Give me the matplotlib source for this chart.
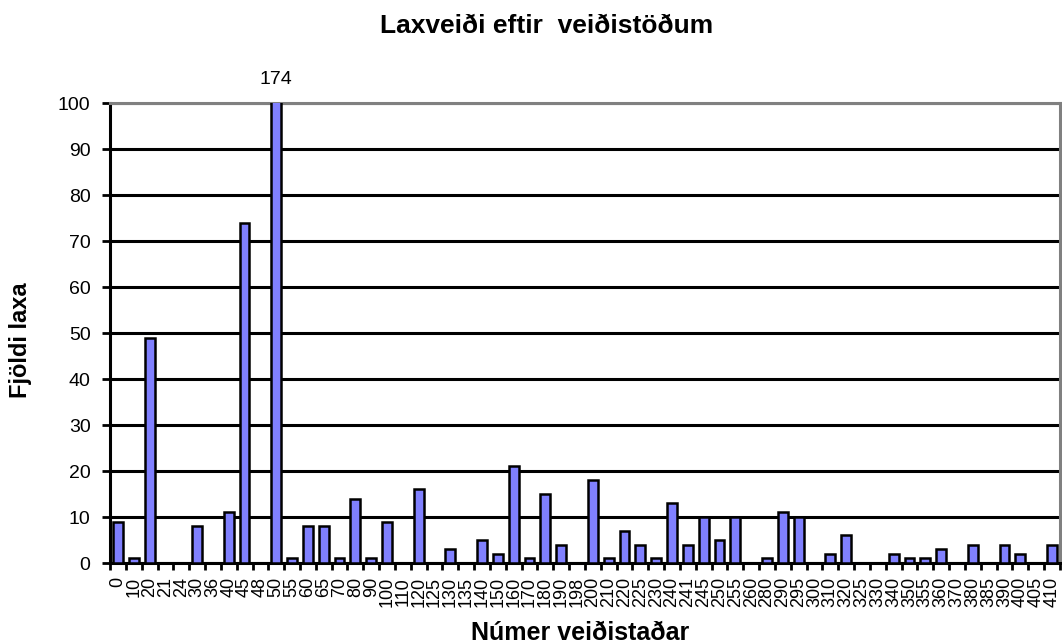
import matplotlib
matplotlib.use("Agg")
import matplotlib.pyplot as plt
import numpy as np

plt.rcParams['font.family'] = ['Liberation Sans', 'DejaVu Sans']

categories = ["0", "10", "20", "21", "24", "30", "36", "40", "45", "48",
              "50", "55", "60", "65", "70", "80", "90", "100", "110", "120",
              "125", "130", "135", "140", "150", "160", "170", "180", "190", "198",
              "200", "210", "220", "225", "230", "240", "241", "245", "250", "255",
              "260", "280", "290", "295", "300", "310", "320", "325", "330", "340",
              "350", "355", "360", "370", "380", "385", "390", "400", "405", "410"]
values = [9, 1, 49, 0, 0, 8, 0, 11, 74, 0,
          174, 1, 8, 8, 1, 14, 1, 9, 0, 16,
          0, 3, 0, 5, 2, 21, 1, 15, 4, 0,
          18, 1, 7, 4, 1, 13, 4, 10, 5, 10,
          0, 1, 11, 10, 0, 2, 6, 0, 0, 2,
          1, 1, 3, 0, 4, 0, 4, 2, 0, 4]
y_ticks = [0, 10, 20, 30, 40, 50, 60, 70, 80, 90, 100]

fig = plt.figure(figsize=(10.62, 6.43), dpi=100)
ax = fig.add_axes([0.1036, 0.1244, 0.8944, 0.7154])

x = np.arange(len(categories))
ax.set_axisbelow(True)
ax.yaxis.grid(True, color='black', linewidth=2.2)
ax.bar(x, values, width=0.62, color='#8080FF', edgecolor='black', linewidth=1.8, zorder=3)

ax.set_xlim(-0.5, len(categories) - 0.5)
ax.set_ylim(0, 100)
ax.set_yticks(y_ticks)
ax.set_yticklabels([str(v) for v in y_ticks], fontsize=14)

ax.set_xticks(x)
ax.set_xticklabels(categories, rotation=90, fontsize=13)
ax.tick_params(axis='x', length=0, pad=10)
ax.set_xticks(np.arange(len(categories) + 1) - 0.5, minor=True)
ax.tick_params(axis='x', which='minor', length=5, width=2, direction='out', color='black')
ax.tick_params(axis='y', length=6, width=2, direction='out', color='black', pad=8)

for i, v in enumerate(values):
    if v > 100:
        ax.annotate(str(v), xy=(i, 100), xytext=(0, 11), textcoords='offset points',
                    ha='center', va='bottom', fontsize=14, annotation_clip=False)

for s in ['left', 'bottom']:
    ax.spines[s].set_color('black')
    ax.spines[s].set_linewidth(2.2)
for s in ['top', 'right']:
    ax.spines[s].set_color('#808080')
    ax.spines[s].set_linewidth(2.2)

ax.set_ylabel('Fjöldi laxa', fontsize=17, fontweight='bold', va='center')
ax.yaxis.set_label_coords(-0.0947, 0.485)
ax.set_xlabel('Númer veiðistaðar', fontsize=18, fontweight='bold', va='center')
ax.xaxis.set_label_coords(0.495, -0.152)
fig.text(0.515, 0.96, 'Laxveiði eftir  veiðistöðum', fontsize=19, fontweight='bold',
         ha='center', va='center')

fig.savefig('out.png', dpi=100)
